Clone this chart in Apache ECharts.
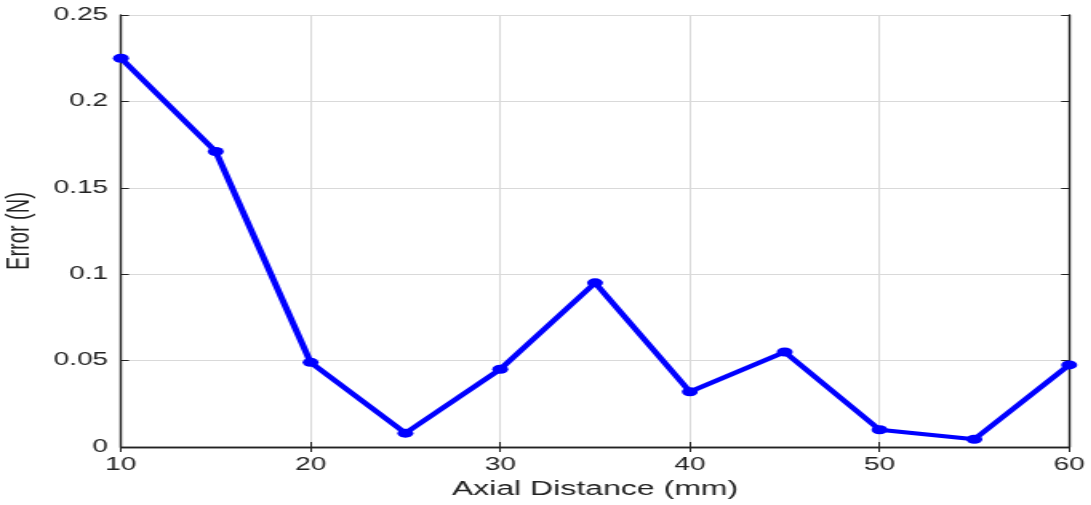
<!DOCTYPE html>
<html>
<head>
<meta charset="utf-8">
<script src="https://cdn.jsdelivr.net/npm/echarts@6/dist/echarts.min.js"></script>
<style>
  html, body { margin: 0; padding: 0; background: #fff; overflow: hidden; }
  #wrap { width: 1091px; height: 505px; overflow: hidden; }
  /* the figure is drawn narrow and widened horizontally */
  #chart { width: 682px; height: 505px; transform-origin: 0 0; transform: scaleX(1.6); }
</style>
</head>
<body>
<div id="wrap"><div id="chart"></div></div>
<script>
const axialDistance = [10, 15, 20, 25, 30, 35, 40, 45, 50, 55, 60];
const errorN = [0.225, 0.171, 0.049, 0.008, 0.045, 0.095, 0.032, 0.055, 0.010, 0.0045, 0.0475];
const xTicks = [10, 20, 30, 40, 50, 60];
const yTicks = [0, 0.05, 0.1, 0.15, 0.2, 0.25];

const ink = '#222222';
const gridColor = '#d9d9d9';
const font = 'Liberation Sans, Arial, Helvetica, sans-serif';

const chart = echarts.init(document.getElementById('chart'), null, { renderer: 'canvas' });

const fmtY = v => {
  const s = yTicks.find(t => Math.abs(t - v) < 1e-9);
  return s === undefined ? '' : String(s);
};

const boxAxis = {
  axisLine: { show: true, lineStyle: { color: ink, width: 1.4 } },
  axisTick: { show: true, inside: true, length: 5, lineStyle: { color: ink, width: 1 } },
  axisLabel: { show: false },
  splitLine: { show: false }
};

chart.setOption({
  animation: false,
  backgroundColor: '#ffffff',
  grid: { left: 75.6, right: 13.75, top: 15, bottom: 58, containLabel: false, outerBoundsMode: 'none' },
  xAxis: [
    {
      type: 'value', min: 10, max: 60, interval: 10,
      name: 'Axial Distance (mm)', nameLocation: 'middle', nameGap: 32,
      nameTextStyle: { color: ink, fontFamily: font, fontSize: 20 },
      axisLine: { show: true, onZero: false, lineStyle: { color: ink, width: 1.4 } },
      axisTick: { show: true, inside: true, length: 5, lineStyle: { color: ink, width: 1 } },
      axisLabel: { color: ink, fontFamily: font, fontSize: 17.5, margin: 9 },
      splitLine: { show: true, lineStyle: { color: gridColor, width: 1 } }
    },
    Object.assign({ type: 'value', position: 'top', min: 10, max: 60, interval: 10 }, boxAxis)
  ],
  yAxis: [
    {
      type: 'value', min: 0, max: 0.25, interval: 0.05,
      name: 'Error (N)', nameLocation: 'middle', nameGap: 51, nameRotate: 90,
      nameTextStyle: { color: ink, fontFamily: font, fontSize: 20 },
      axisLine: { show: true, onZero: false, lineStyle: { color: ink, width: 1.4 } },
      axisTick: { show: true, inside: true, length: 5, lineStyle: { color: ink, width: 1 } },
      axisLabel: { color: ink, fontFamily: font, fontSize: 17.5, margin: 8, formatter: fmtY },
      splitLine: { show: true, lineStyle: { color: gridColor, width: 1 } }
    },
    Object.assign({ type: 'value', position: 'right', min: 0, max: 0.25, interval: 0.05 }, boxAxis)
  ],
  series: [
    {
      type: 'line',
      data: axialDistance.map((x, i) => [x, errorN[i]]),
      lineStyle: { color: '#0000ff', width: 4.2 },
      itemStyle: { color: '#0000ff' },
      symbol: 'circle',
      symbolSize: [10, 9],
      showSymbol: true,
      z: 5
    }
  ]
});
</script>
</body>
</html>
